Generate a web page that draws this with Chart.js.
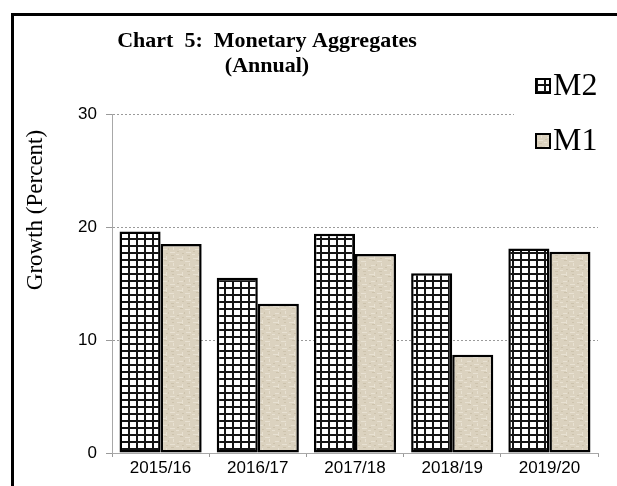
<!DOCTYPE html>
<html>
<head>
<meta charset="utf-8">
<script src="https://cdn.jsdelivr.net/npm/chart.js@4/dist/chart.umd.min.js"></script>
<style>
  html, body { margin: 0; padding: 0; background: #fff; overflow: hidden; }
  #frame { position: absolute; left: 11px; top: 13px; width: 800px; height: 700px; border: 3px solid #000; box-sizing: border-box; }
  #c { position: absolute; left: 0; top: 0; }
</style>
</head>
<body>
<div id="frame"></div>
<canvas id="c" width="617" height="486"></canvas>
<script>
const categories = ['2015/16', '2016/17', '2017/18', '2018/19', '2019/20'];
const seriesNames = ['M2', 'M1'];
const m2Values = [19.6, 15.5, 19.4, 15.9, 18.1];
const m1Values = [18.5, 13.2, 17.6, 8.7, 17.8];
const yTicks = [0, 10, 20, 30];
const titleLines = ['Chart  5:  Monetary Aggregates', '(Annual)'];
const yAxisTitle = 'Growth (Percent)';

function gridPattern() {
  const c = document.createElement('canvas');
  c.width = 8; c.height = 7;
  const g = c.getContext('2d');
  g.fillStyle = '#ffffff'; g.fillRect(0, 0, 8, 7);
  g.fillStyle = '#151515';
  g.fillRect(0, 0, 8, 2);
  g.fillRect(0, 0, 2, 7);
  return g.createPattern(c, 'repeat');
}
function linenPattern() {
  const c = document.createElement('canvas');
  c.width = 16; c.height = 16;
  const g = c.getContext('2d');
  g.fillStyle = '#dbd2bf'; g.fillRect(0, 0, 16, 16);
  g.fillStyle = '#e8e1d2';
  [[1,2,6,1],[9,5,5,1],[3,9,4,1],[10,12,5,1],[0,14,3,1],[6,0,1,4],[13,7,1,3]].forEach(r => g.fillRect(r[0], r[1], r[2], r[3]));
  g.fillStyle = '#cdc3ad';
  [[4,4,3,1],[12,2,2,1],[1,11,2,1],[8,8,1,2],[11,15,3,1],[6,13,2,1]].forEach(r => g.fillRect(r[0], r[1], r[2], r[3]));
  return g.createPattern(c, 'repeat');
}
const ctx0 = document.getElementById('c').getContext('2d');
const m2Fill = gridPattern();
const m1Fill = linenPattern();

const overlay = {
  id: 'overlay',
  afterDraw(chart) {
    const ctx = chart.ctx;
    ctx.save();
    // title
    ctx.fillStyle = '#000';
    ctx.textAlign = 'center';
    ctx.textBaseline = 'alphabetic';
    ctx.font = 'bold 22px "Liberation Serif"';
    ctx.fillText(titleLines[0], 267, 47);
    ctx.fillText(titleLines[1], 267, 72);
    // y axis title
    ctx.save();
    ctx.translate(36, 210);
    ctx.rotate(-Math.PI / 2);
    ctx.font = '23px "Liberation Serif"';
    ctx.textBaseline = 'middle';
    ctx.fillText(yAxisTitle, 0, 0);
    ctx.restore();
    // legend box
    ctx.fillStyle = '#fff';
    ctx.fillRect(514, 58, 103, 128);
    const fills = [m2Fill, m1Fill];
    const rowsY = [86, 141];
    seriesNames.forEach((name, i) => {
      const y = rowsY[i];
      ctx.fillStyle = fills[i];
      ctx.fillRect(536, y - 7, 14, 14);
      ctx.lineWidth = 2;
      ctx.strokeStyle = '#000';
      ctx.strokeRect(536, y - 7, 14, 14);
      ctx.fillStyle = '#000';
      ctx.font = '32px "Liberation Serif"';
      ctx.textAlign = 'left';
      ctx.textBaseline = 'middle';
      ctx.fillText(name, 553, y + 1);
    });
    ctx.restore();
  }
};

new Chart(ctx0, {
  type: 'bar',
  data: {
    labels: categories,
    datasets: [
      { label: seriesNames[0], data: m2Values, backgroundColor: m2Fill, borderColor: '#000', borderWidth: 2.5, borderSkipped: false },
      { label: seriesNames[1], data: m1Values, backgroundColor: m1Fill, borderColor: '#000', borderWidth: 2.5, borderSkipped: false }
    ]
  },
  options: {
    responsive: false,
    animation: false,
    devicePixelRatio: 1,
    layout: { padding: { left: 0, top: 114, right: 19, bottom: 0 } },
    datasets: { bar: { categoryPercentage: 0.845, barPercentage: 1.0 } },
    plugins: { legend: { display: false }, title: { display: false }, tooltip: { enabled: false } },
    scales: {
      x: {
        afterFit(s) { s.height = 33; },
        grid: { display: true, drawOnChartArea: false, drawTicks: true, tickLength: 4, color: '#999' },
        border: { display: true, color: '#a8a8a8', width: 1 },
        ticks: { color: '#000', font: { family: '"Liberation Sans"', size: 17 }, padding: 1, maxRotation: 0 }
      },
      y: {
        min: 0, max: 30,
        afterFit(s) { s.width = 112; },
        afterBuildTicks(s) { s.ticks = yTicks.map(v => ({ value: v })); },
        grid: { color: '#9a9a9a', lineWidth: 1, tickLength: 6, drawTicks: true },
        border: { display: true, color: '#a8a8a8', width: 1, dash: [2, 2] },
        ticks: { color: '#000', font: { family: '"Liberation Sans"', size: 17 }, padding: 9 }
      }
    }
  },
  plugins: [overlay]
});
</script>
</body>
</html>
